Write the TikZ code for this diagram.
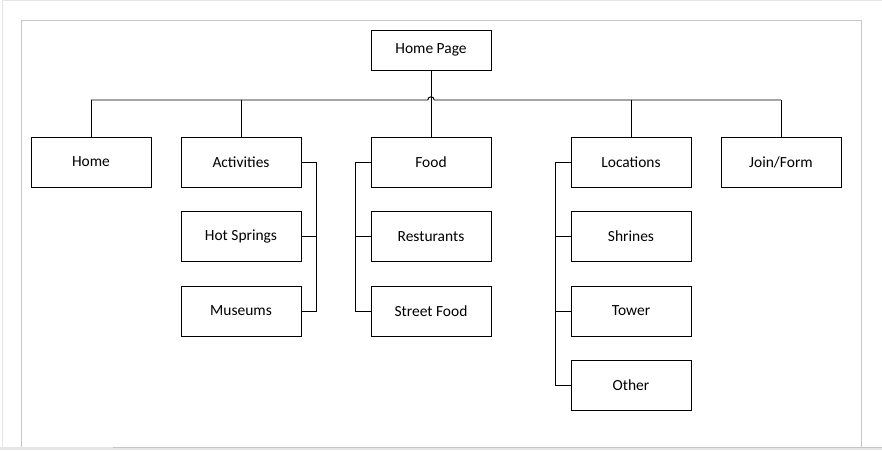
\documentclass[tikz,border=0pt]{standalone}
\usepackage{fontspec}
\setmainfont{Carlito}
\usepackage{tikz}
\usetikzlibrary{positioning, calc}
\definecolor{pageedge}{HTML}{C6C6C6}
\definecolor{barlight}{HTML}{E6E6E6}

\tikzset{
  sitebox/.style={draw, line width=0.7pt, minimum width=3cm, minimum height=1.25cm,
    inner sep=0pt, font=\fontsize{11}{13}\selectfont},
  link/.style={line width=0.7pt}
}

\begin{document}
\begin{tikzpicture}
  \useasboundingbox (0,0) rectangle (22.05,-11.25);
  % page frame
  \draw[pageedge, line width=0.6pt] (0.525,-11.25) |- (21.525,-0.5) -- (21.525,-11.25);
  \draw[barlight, line width=0.5pt] (0.05,-11.25) -- (0.05,0) -- (22.05,0);
  \fill[barlight] (0,-11.18) rectangle (22.05,-11.25);
  \draw[pageedge, line width=0.5pt] (2.83,-11.18) -- (22.05,-11.18);

  % top level
  \node[sitebox, minimum height=1cm] (homepage) at (10.775,-1.25) {Home Page};
  \node[sitebox] (home) at (2.275,-4.05) {Home};
  \node[sitebox] (activities) at (6.025,-4.05) {Activities};
  \node[sitebox] (food) at (10.775,-4.05) {Food};
  \node[sitebox] (locations) at (15.775,-4.05) {Locations};
  \node[sitebox] (join) at (19.525,-4.05) {Join/Form};

  % sub pages
  \node[sitebox, below=0.588cm of activities] (hotsprings) {Hot Springs};
  \node[sitebox, below=0.588cm of hotsprings] (museums) {Museums};
  \node[sitebox, below=0.588cm of food] (resturants) {Resturants};
  \node[sitebox, below=0.588cm of resturants] (streetfood) {Street Food};
  \node[sitebox, below=0.588cm of locations] (shrines) {Shrines};
  \node[sitebox, below=0.588cm of shrines] (tower) {Tower};
  \node[sitebox, below=0.588cm of tower] (other) {Other};

  % bus with hop over the centre line
  \coordinate (bus) at (10.775,-2.5);
  \draw[link] (home.north |- bus) -- ($(bus)+(-0.08,0)$)
    arc[start angle=180, end angle=0, radius=0.08] -- (join.north |- bus);
  \draw[link] (homepage.south) -- (food.north);
  \foreach \n in {home, activities, locations, join}
    \draw[link] (\n.north |- bus) -- (\n.north);

  % brackets
  \draw[link] (activities.east) -- ++(0.375,0) |- (museums.east);
  \draw[link] (hotsprings.east) -- ++(0.375,0);
  \draw[link] (food.west) -- ++(-0.375,0) |- (streetfood.west);
  \draw[link] (resturants.west) -- ++(-0.375,0);
  \draw[link] (locations.west) -- ++(-0.375,0) |- (other.west);
  \draw[link] (shrines.west) -- ++(-0.375,0);
  \draw[link] (tower.west) -- ++(-0.375,0);
\end{tikzpicture}
\end{document}
